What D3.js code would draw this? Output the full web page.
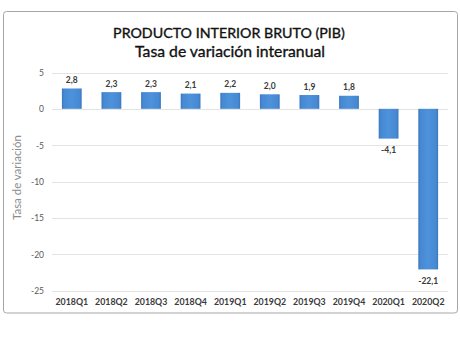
<!DOCTYPE html>
<html><head><meta charset="utf-8">
<script src="https://cdn.jsdelivr.net/npm/d3@7"></script>
<style>html,body{margin:0;padding:0;background:#fff;}svg{display:block;}</style>
</head><body>
<svg id="c" width="460" height="340"></svg>
<script>
const categories = ["2018Q1","2018Q2","2018Q3","2018Q4","2019Q1","2019Q2","2019Q3","2019Q4","2020Q1","2020Q2"];
const values = [2.8, 2.3, 2.3, 2.1, 2.2, 2.0, 1.9, 1.8, -4.1, -22.1];
const yTicks = [5, 0, -5, -10, -15, -20, -25];
const titleLines = ["PRODUCTO INTERIOR BRUTO (PIB)", "Tasa de variación interanual"];
const yTitle = "Tasa de variación";

const svg = d3.select("#c");
const defs = svg.append("defs");
const g = defs.append("linearGradient").attr("id","bar").attr("x1","0").attr("x2","1").attr("y1","0").attr("y2","0");
g.append("stop").attr("offset","0").attr("stop-color","#3a78c0");
g.append("stop").attr("offset","0.12").attr("stop-color","#4789d3");
g.append("stop").attr("offset","0.5").attr("stop-color","#4d92db");
g.append("stop").attr("offset","0.88").attr("stop-color","#4789d3");
g.append("stop").attr("offset","1").attr("stop-color","#3a78c0");

// frame
svg.append("rect").attr("x",3.5).attr("y",11.5).attr("width",454).attr("height",301.5)
  .attr("rx",3).attr("fill","#fff").attr("stroke","#a6a6a6").attr("stroke-width",1);

const x = d3.scaleBand().domain(categories).range([52,448]).paddingInner(0.5).paddingOuter(0.25);
const y = d3.scaleLinear().domain([-25,5]).range([290.5,72.5]);

// gridlines
svg.append("g").selectAll("line").data(yTicks).join("line")
  .attr("x1",52).attr("x2",448).attr("y1",d=>Math.round(y(d))+0.5).attr("y2",d=>Math.round(y(d))+0.5)
  .attr("stroke","#e3e3e3").attr("stroke-width",1);

const fmtDec = d => d.toFixed(1).replace(".",",");

// y axis labels
const yAxis = d3.axisLeft(y).tickValues(yTicks).tickSize(0).tickPadding(0).tickFormat(d => String(d));
const ya = svg.append("g").attr("transform","translate(44,0)").call(yAxis);
ya.select(".domain").remove();
ya.selectAll("text").attr("font-family","Lato, 'Open Sans', sans-serif").attr("font-size",8.5).attr("fill","#595959").attr("dy","0.35em");

// x axis labels
const xAxis = d3.axisBottom(x).tickSize(0).tickPadding(0);
const xa = svg.append("g").attr("transform","translate(0,299)").call(xAxis);
xa.select(".domain").remove();
xa.selectAll("text").attr("font-family","Lato, 'Open Sans', sans-serif").attr("font-size",8.8).attr("font-weight","bold").attr("fill","#3a3a3a").attr("dy","0.71em");

// bars
svg.append("g").selectAll("rect").data(values).join("rect")
  .attr("x",(d,i)=>x(categories[i]))
  .attr("width",x.bandwidth())
  .attr("y",d=>y(Math.max(0,d)))
  .attr("height",d=>Math.abs(y(d)-y(0)))
  .attr("fill","url(#bar)");

// data labels
svg.append("g").selectAll("text").data(values).join("text")
  .attr("x",(d,i)=>x(categories[i])+x.bandwidth()/2)
  .attr("y",d=> d>=0 ? y(d)-5.5 : y(d)+14.5)
  .attr("text-anchor","middle")
  .attr("font-family","Lato, 'Open Sans', sans-serif").attr("font-size",8.5).attr("font-weight","bold").attr("fill","#3a3a3a")
  .text(fmtDec);

// titles
const t1 = svg.append("text").attr("x",229).attr("y",37.5).attr("text-anchor","middle")
  .attr("font-family","Lato, 'Open Sans', sans-serif").attr("font-size",16.5).attr("fill","#111")
  .attr("stroke","#111").attr("stroke-width",0.35)
  .text(titleLines[0]);
const t2 = svg.append("text").attr("x",230).attr("y",57).attr("text-anchor","middle")
  .attr("font-family","Lato, 'Open Sans', sans-serif").attr("font-size",16.5).attr("fill","#111")
  .attr("stroke","#111").attr("stroke-width",0.35)
  .text(titleLines[1]);
function fit(t,w){const l=t.node().getComputedTextLength();const fs=+t.attr("font-size");t.attr("font-size",fs*w/l);}
fit(t1,232); fit(t2,190);

// y title
const yt = svg.append("text").attr("transform","translate(21,177.5) rotate(-90)").attr("text-anchor","middle")
  .attr("font-family","Lato, 'Open Sans', sans-serif").attr("font-size",10.5).attr("fill","#8c8c8c")
  .text(yTitle);
fit(yt,85);
</script>
</body></html>
